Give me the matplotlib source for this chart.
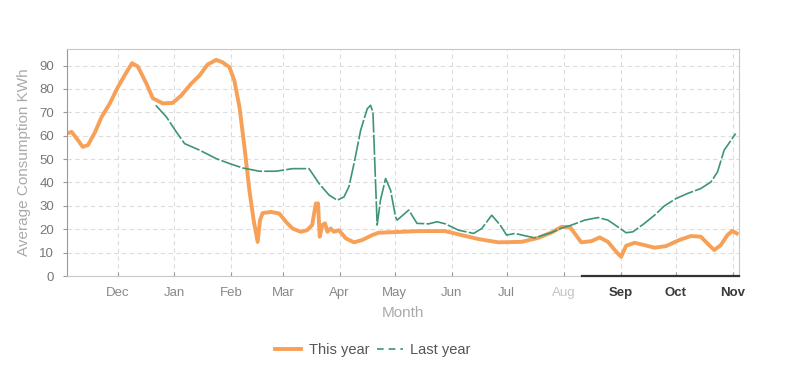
import matplotlib
matplotlib.use('Agg')
import matplotlib.pyplot as plt
import pandas as pd

plt.rcParams['font.family'] = ['Liberation Sans', 'DejaVu Sans']

start = pd.Timestamp('2012-11-01')

# days after start
this_days = [2.3, 5, 8.5, 11, 13.9, 17.7, 21.3, 25.8, 30.2, 34.9, 37.9, 41, 45.7, 49.2, 54.6,
             60, 64.7, 70.2, 74.7, 79, 83.7, 87.1, 90.9, 93.6, 96.4, 99.1, 101.8, 104.1, 106.3,
             107.6, 109, 113.6, 118.1, 121.7, 125.3, 129.8, 133.3, 136, 138, 139.2, 140.1, 141.6,
             143, 144.3, 146.1, 147.9, 150.6, 154.3, 158.8, 163.3, 168.7, 172.3, 194, 208.5,
             215.7, 226.6, 237.4, 250.1, 259.1, 266.4, 271.8, 276.3, 279, 282.6, 288.1, 292.6,
             297.1, 301.6, 304.3, 307, 311.6, 317, 322.5, 328.8, 336, 342.3, 347.7, 352.2, 355,
             358.6, 362.2, 364.9, 367.3]
this_vals = [61, 61.6, 58, 55.2, 56, 61.5, 68, 73.8, 80.8, 87.2, 91, 89.6, 82.3, 76, 73.8,
             74, 77.2, 82.3, 85.8, 90.4, 92.4, 91.4, 89.3, 83.6, 72.2, 55.2, 36.7, 23.9, 14.6,
             23.9, 26.9, 27.4, 26.7, 23.2, 20.3, 18.9, 19.6, 21.8, 31, 31, 16.8, 21.8,
             22.5, 18.9, 20.3, 18.9, 19.6, 16.1, 14.4, 15.4, 17.5, 18.5, 19.2, 19.2,
             17.8, 15.8, 14.4, 14.6, 16.3, 18.6, 21, 21, 18.2, 14.4, 14.9, 16.5,
             14.6, 10.4, 8.2, 12.9, 14.2, 13.2, 12.1, 12.8, 15.4, 17.1, 16.8, 13.2, 11.1,
             13.2, 17.5, 19.3, 18.2]

last_days = [50.8, 56.6, 62, 66.5, 74.7, 83.7, 90.9, 98.1, 107.2, 116.3, 125.3, 134.3, 139.8,
             145.2, 149.7, 153.3, 156, 158.8, 162.4, 166, 167.8, 169.1, 170.2, 171.4, 173.2,
             176, 178.7, 181.4, 182.3, 188.6, 193.1, 199.5, 204, 208.5, 215.7, 223.9, 228.4,
             233.8, 238.4, 241.9, 246.5, 251.9, 257.3, 266.4, 271.8, 276.3, 284.5, 291.7,
             297.1, 302.5, 307, 310.7, 317, 322.5, 327.9, 334.2, 340.5, 347.7, 353.2, 356.8,
             360.4, 366.7]
last_vals = [73, 68, 61.6, 56.6, 53.8, 50.2, 48.1, 46.2, 44.8, 44.8, 45.9, 45.9, 39.5,
             34.6, 32.4, 33.8, 38.1, 48.1, 62.3, 71.5, 73, 70.1, 46.6, 21.8, 32.4,
             41.7, 36.7, 25.3, 23.9, 28.2, 22.5, 22.3, 23.2, 22.3, 19.6, 18.2, 20.3,
             26, 21.8, 17.5, 18.2, 17.2, 16.3, 18.6, 20.5, 21.5, 23.9, 25, 23.9,
             21, 18.5, 18.9, 22.5, 26, 30, 33.1, 35.3, 37.4, 40.2, 44.5, 53.8, 60.9]

month_labels = ['Dec', 'Jan', 'Feb', 'Mar', 'Apr', 'May', 'Jun', 'Jul', 'Aug', 'Sep', 'Oct', 'Nov']
month_colors = ['#888888'] * 8 + ['#c4c4c4'] + ['#3a3a3a'] * 3
selected_from = '2013-08-11'

this_x = start + pd.to_timedelta(this_days, unit='D')
last_x = start + pd.to_timedelta(last_days, unit='D')

fig = plt.figure(figsize=(7.85, 3.9), dpi=100)
ax = fig.add_axes([0.085, 0.2923, 0.8564, 0.5817])

line_last, = ax.plot(last_x, last_vals, color='#3d9478', lw=1.2, dashes=(12, 1.3),
                     label='Last year', zorder=3)
line_this, = ax.plot(this_x, this_vals, color='#f7a057', lw=2.8, label='This year', zorder=2,
                     solid_joinstyle='round')

ax.set_xlim(start + pd.Timedelta(days=2.3), start + pd.Timedelta(days=368.5))
ax.set_ylim(0, 97)
ax.set_yticks(range(0, 91, 10))

ticks = pd.date_range('2012-12-01', '2013-11-01', freq='MS')
ax.set_xticks(ticks)
ax.set_xticklabels(month_labels)
for lab, c in zip(ax.get_xticklabels(), month_colors):
    lab.set_color(c)
    if c == '#3a3a3a':
        lab.set_fontweight('semibold')

ax.tick_params(axis='x', labelsize=9.5, length=3, direction='in', pad=8, color='#999999')
ax.tick_params(axis='y', labelsize=9.5, labelcolor='#777777', length=3, pad=6, color='#999999')

ax.grid(True, color='#dddddd', linestyle=(0, (4, 3)), linewidth=0.8)
ax.set_axisbelow(True)
for s in ax.spines.values():
    s.set_color('#c8c8c8')
ax.spines['left'].set_color('#999999')

ax.plot([pd.Timestamp(selected_from), start + pd.Timedelta(days=368.5)], [0, 0],
        color='#333333', lw=1.6, clip_on=False, zorder=5)

ax.set_ylabel('Average Consumption KWh', fontsize=11, color='#aaaaaa', labelpad=6)
ax.set_xlabel('Month', fontsize=11, color='#aaaaaa', labelpad=5)

# legend handle for last year with shorter dashes, as in the original
leg_last, = ax.plot([], [], color='#3d9478', lw=1.2, dashes=(4, 3))
leg = fig.legend(handles=[line_this, leg_last], labels=['This year', 'Last year'],
                 loc='center', bbox_to_anchor=(0.475, 0.103), ncol=2, frameon=False,
                 fontsize=10.5, handlelength=1.8, columnspacing=0.5, handletextpad=0.5)
for t in leg.get_texts():
    t.set_color('#555555')

fig.savefig('out.png', dpi=100)
